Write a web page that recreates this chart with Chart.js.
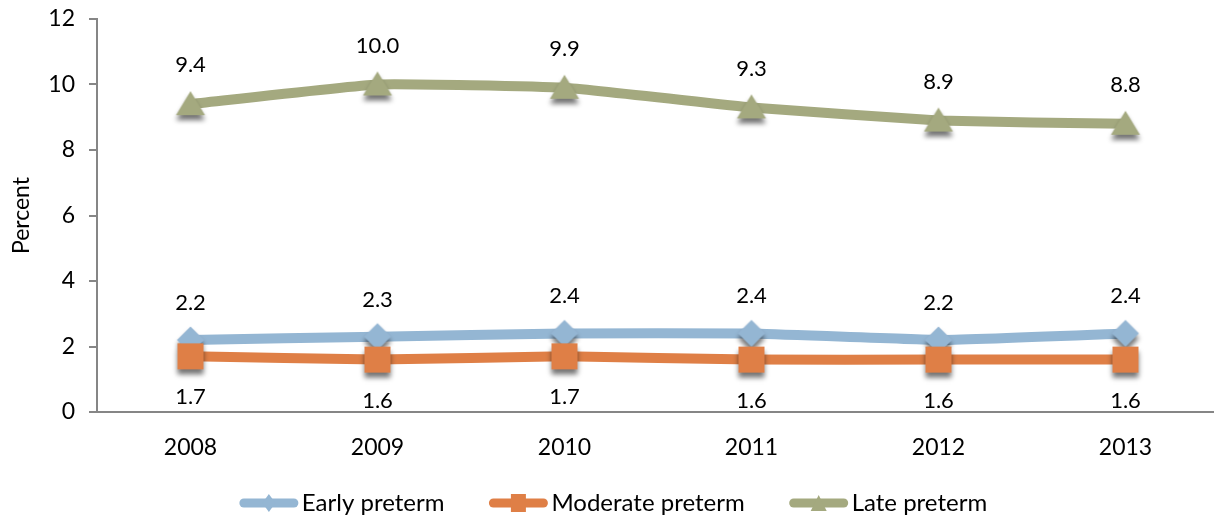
<!DOCTYPE html>
<html>
<head>
<meta charset="utf-8">
<script src="https://cdn.jsdelivr.net/npm/chart.js@4"></script>
<style>
html,body{margin:0;padding:0;background:#fff;overflow:hidden;}
#wrap{position:relative;width:1219px;height:520px;}
</style>
</head>
<body>
<div id="wrap"><canvas id="c"></canvas></div>
<script>
const categories = ['2008', '2009', '2010', '2011', '2012', '2013'];
const earlyPreterm = [2.2, 2.3, 2.4, 2.4, 2.2, 2.4];
const moderatePreterm = [1.7, 1.6, 1.7, 1.6, 1.6, 1.6];
const latePreterm = [9.4, 10.0, 9.9, 9.3, 8.9, 8.8];
const seriesNames = ['Early preterm', 'Moderate preterm', 'Late preterm'];
const yMin = 0, yMax = 12, yStep = 2;
const yTitle = 'Percent';

const COLORS = ['#94B6D3', '#DF7F46', '#A4A97F'];
const SHAPES = ['diamond', 'square', 'triangle'];
const FONT = 'Lato, "Open Sans", sans-serif';

function shapePath(ctx, shape, cx, cy, w, h) {
  ctx.beginPath();
  if (shape === 'diamond') {
    ctx.moveTo(cx, cy - h / 2); ctx.lineTo(cx + w / 2, cy); ctx.lineTo(cx, cy + h / 2); ctx.lineTo(cx - w / 2, cy);
  } else if (shape === 'square') {
    ctx.rect(cx - w / 2, cy - h / 2, w, h);
  } else {
    ctx.moveTo(cx, cy - h / 2 - 1); ctx.lineTo(cx + w / 2, cy + h / 2 - 1); ctx.lineTo(cx - w / 2, cy + h / 2 - 1);
  }
  ctx.closePath();
}

function markerImage(shape, color) {
  const c = document.createElement('canvas');
  c.width = 44; c.height = 50;
  const ctx = c.getContext('2d');
  ctx.shadowColor = 'rgba(0,0,0,0.55)';
  ctx.shadowBlur = 5;
  ctx.shadowOffsetY = 5;
  ctx.fillStyle = color;
  if (shape === 'diamond') shapePath(ctx, shape, 22, 25, 27, 27);
  else if (shape === 'square') shapePath(ctx, shape, 22, 25, 26, 26);
  else shapePath(ctx, shape, 22, 25, 29, 24);
  ctx.fill();
  return c;
}

const labelOffsets = [-37, 41, -39];

const dataLabelPlugin = {
  id: 'dataLabels',
  afterDatasetsDraw(chart) {
    const ctx = chart.ctx;
    ctx.save();
    ctx.font = '22px ' + FONT;
    ctx.fillStyle = '#000';
    ctx.textAlign = 'center';
    ctx.textBaseline = 'middle';
    chart.data.datasets.forEach((ds, i) => {
      const meta = chart.getDatasetMeta(i);
      meta.data.forEach((pt, j) => {
        ctx.fillText(ds.data[j].toFixed(1), pt.x, pt.y + labelOffsets[i]);
      });
    });
    ctx.restore();
  }
};

const legendPlugin = {
  id: 'customLegend',
  afterDraw(chart) {
    const ctx = chart.ctx;
    ctx.save();
    ctx.font = '24px ' + FONT;
    const sampleW = 60, gapText = 3, gapItem = 44, y = 503;
    const widths = seriesNames.map(n => ctx.measureText(n).width);
    const total = widths.reduce((a, w) => a + sampleW + gapText + w, 0) + gapItem * (seriesNames.length - 1);
    let x = 613 - total / 2;
    seriesNames.forEach((name, i) => {
      ctx.strokeStyle = COLORS[i];
      ctx.lineWidth = 9;
      ctx.lineCap = 'round';
      ctx.beginPath();
      ctx.moveTo(x + 5, y); ctx.lineTo(x + sampleW - 5, y);
      ctx.stroke();
      ctx.fillStyle = COLORS[i];
      const cx = x + sampleW / 2;
      if (SHAPES[i] === 'diamond') shapePath(ctx, 'diamond', cx, y, 13, 18);
      else if (SHAPES[i] === 'square') shapePath(ctx, 'square', cx, y, 15, 18);
      else shapePath(ctx, 'triangle', cx, y + 1, 16, 16);
      ctx.fill();
      ctx.fillStyle = '#000';
      ctx.textAlign = 'left';
      ctx.textBaseline = 'middle';
      ctx.fillText(name, x + sampleW + gapText, y);
      x += sampleW + gapText + widths[i] + gapItem;
    });
    ctx.restore();
  }
};

const seriesData = [earlyPreterm, moderatePreterm, latePreterm];
const datasets = seriesData.map((d, i) => ({
  label: seriesNames[i],
  data: d,
  borderColor: COLORS[i],
  backgroundColor: COLORS[i],
  borderWidth: 10,
  tension: 0.12,
  pointStyle: markerImage(SHAPES[i], COLORS[i]),
  pointRadius: 13,
  pointHoverRadius: 13,
  order: 3 - i,
  clip: false
}));

function draw() {
  new Chart(document.getElementById('c'), {
    type: 'line',
    data: { labels: categories, datasets },
    options: {
      responsive: true,
      maintainAspectRatio: false,
      animation: false,
      events: [],
      layout: { autoPadding: false, padding: { left: 0, right: 0, top: 19, bottom: 0 } },
      plugins: { legend: { display: false }, tooltip: { enabled: false } },
      scales: {
        x: {
          offset: true,
          grid: { display: false, drawTicks: false },
          border: { display: true, color: '#868686', width: 2 },
          ticks: { color: '#000', font: { family: FONT, size: 23 }, padding: 22, maxRotation: 0 },
          afterFit(s) { s.height = 108; s.paddingLeft = 0; s.paddingRight = 0; }
        },
        y: {
          min: yMin, max: yMax,
          grid: { drawOnChartArea: false, drawTicks: true, tickLength: 8, color: '#868686', lineWidth: 2 },
          border: { display: true, color: '#868686', width: 2 },
          ticks: { stepSize: yStep, color: '#000', font: { family: FONT, size: 23 }, padding: 14 },
          title: { display: true, text: yTitle, color: '#000', font: { family: FONT, size: 23 }, padding: { top: 8, bottom: 0 } },
          afterFit(s) { s.width = 97; s.paddingTop = 0; s.paddingBottom = 0; }
        }
      }
    },
    plugins: [dataLabelPlugin, legendPlugin]
  });
}
if (document.fonts && document.fonts.load) {
  document.fonts.load('23px Lato').then(draw, draw);
} else { draw(); }
</script>
</body>
</html>
